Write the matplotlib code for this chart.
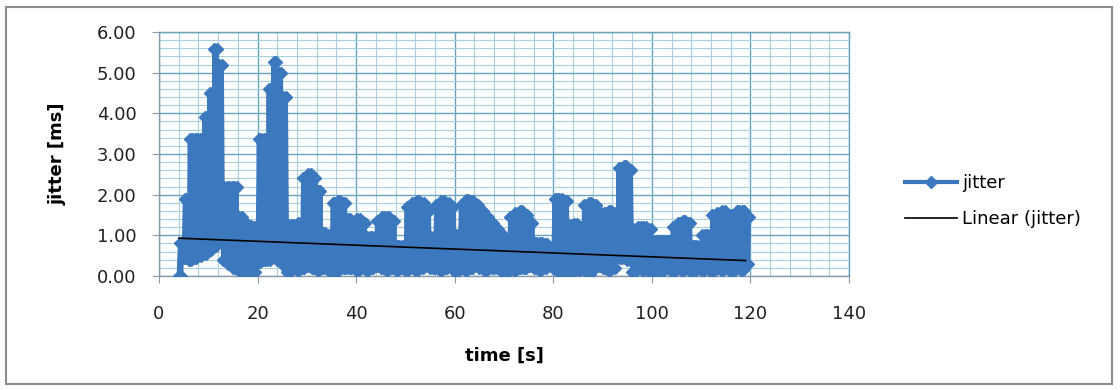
import matplotlib
matplotlib.use('Agg')
import matplotlib.pyplot as plt
from matplotlib.patches import Rectangle
from matplotlib.ticker import MultipleLocator, FormatStrFormatter
import numpy as np

# seconds 4..119, upper / lower envelope of the jitter series (ms)
seconds = list(range(4, 120))
jitter_high = [0.80, 1.90, 3.38, 3.38, 3.38, 3.90, 4.50, 5.57, 5.20, 2.20,
               2.20, 2.20, 1.46, 1.30, 1.22, 1.20, 3.38, 3.38, 4.60, 5.27,
               5.00, 4.40, 1.25, 1.25, 1.30, 2.40, 2.50, 2.40, 2.10, 1.05,
               1.00, 1.80, 1.85, 1.80, 1.40, 1.35, 1.40, 1.30, 0.97, 0.97,
               1.35, 1.45, 1.45, 1.35, 0.75, 0.73, 1.70, 1.80, 1.85, 1.80,
               1.60, 0.97, 1.75, 1.85, 1.80, 1.70, 1.00, 1.75, 1.88, 1.85,
               1.75, 1.60, 1.45, 1.30, 1.15, 1.00, 0.90, 1.45, 1.55, 1.60,
               1.50, 1.30, 0.80, 0.80, 0.78, 0.70, 1.90, 1.90, 1.85, 1.25,
               1.27, 1.20, 1.75, 1.80, 1.75, 1.55, 1.55, 1.60, 1.55, 2.65,
               2.70, 2.60, 1.15, 1.20, 1.20, 1.15, 0.85, 0.85, 0.85, 0.85,
               1.20, 1.30, 1.35, 1.30, 0.75, 0.73, 1.00, 1.00, 1.50, 1.55,
               1.60, 1.50, 1.50, 1.60, 1.60, 1.45]
jitter_low = [0.00, 0.45, 0.40, 0.45, 0.50, 0.55, 0.65, 0.75, 0.85, 0.40,
              0.30, 0.20, 0.15, 0.10, 0.05, 0.10, 0.35, 0.40, 0.40, 0.50,
              0.40, 0.30, 0.10, 0.20, 0.15, 0.20, 0.25, 0.20, 0.15, 0.20,
              0.20, 0.05, 0.15, 0.20, 0.20, 0.20, 0.15, 0.20, 0.15, 0.20,
              0.25, 0.20, 0.15, 0.20, 0.15, 0.20, 0.15, 0.20, 0.15, 0.20,
              0.25, 0.20, 0.20, 0.15, 0.20, 0.25, 0.10, 0.20, 0.15, 0.20,
              0.25, 0.20, 0.15, 0.20, 0.20, 0.25, 0.05, 0.20, 0.15, 0.20,
              0.20, 0.25, 0.20, 0.15, 0.20, 0.25, 0.20, 0.10, 0.15, 0.05,
              0.20, 0.15, 0.20, 0.05, 0.20, 0.25, 0.20, 0.15, 0.20, 0.45,
              0.45, 0.40, 0.10, 0.20, 0.15, 0.20, 0.00, 0.20, 0.15, 0.20,
              0.10, 0.20, 0.15, 0.20, 0.10, 0.20, 0.15, 0.20, 0.10, 0.20,
              0.15, 0.20, 0.10, 0.20, 0.15, 0.30]

# linear trend end points
trend_t = [4, 119]
trend_v = [0.93, 0.38]

# the series swings between low and high several times per second
t = []
v = []
for s, lo, hi in zip(seconds, jitter_low, jitter_high):
    t += [s, s + 0.25, s + 0.5, s + 0.75]
    v += [lo, hi, lo, hi]

blue = '#3B78BE'
major_c = '#6AA3BE'
minor_c = '#A6CFDF'

fig = plt.figure(figsize=(11.2, 3.9), dpi=100)
ax = fig.add_axes([159 / 1120, 1 - 276 / 390, 690 / 1120, 244 / 390])

ax.plot(t, v, color=blue, lw=3.0, marker='D', markersize=6, label='jitter', zorder=3)
ax.plot(trend_t, trend_v, color='black', lw=1.2, label='Linear (jitter)', zorder=4)

ax.set_xlim(0, 140)
ax.set_ylim(0, 6)
ax.xaxis.set_major_locator(MultipleLocator(20))
ax.xaxis.set_minor_locator(MultipleLocator(4))
ax.yaxis.set_major_locator(MultipleLocator(1))
ax.yaxis.set_minor_locator(MultipleLocator(0.2))
ax.yaxis.set_major_formatter(FormatStrFormatter('%.2f'))

ax.grid(which='major', color=major_c, lw=1.0, zorder=0)
ax.grid(which='minor', color=minor_c, lw=0.8, zorder=0)
ax.set_axisbelow(True)

for sp in ax.spines.values():
    sp.set_color(major_c)
    sp.set_linewidth(1.0)
ax.spines['left'].set_color('#8A9BA8')
ax.spines['bottom'].set_color('#8A9BA8')

ax.tick_params(which='major', length=5, color='#8A9BA8', labelsize=13, labelcolor='#222222')
ax.tick_params(axis='y', pad=11)
ax.tick_params(axis='x', pad=16)
ax.tick_params(which='minor', length=0)

ax.set_xlabel('time [s]', fontsize=13, fontweight='bold', labelpad=17)
ax.set_ylabel('jitter [ms]', fontsize=13, fontweight='bold', labelpad=22)

leg = fig.legend(loc='center left', bbox_to_anchor=(905 / 1120, 1 - 201 / 390),
                 frameon=False, fontsize=13, handlelength=2.9, handletextpad=0.25,
                 labelspacing=1.0, borderpad=0, borderaxespad=0)

fig.patches.append(Rectangle((6 / 1120, 6 / 390), 1106 / 1120, 377 / 390,
                             transform=fig.transFigure, fill=False,
                             edgecolor='#8C8C8C', lw=1.5))

fig.savefig('out.png', dpi=100)
